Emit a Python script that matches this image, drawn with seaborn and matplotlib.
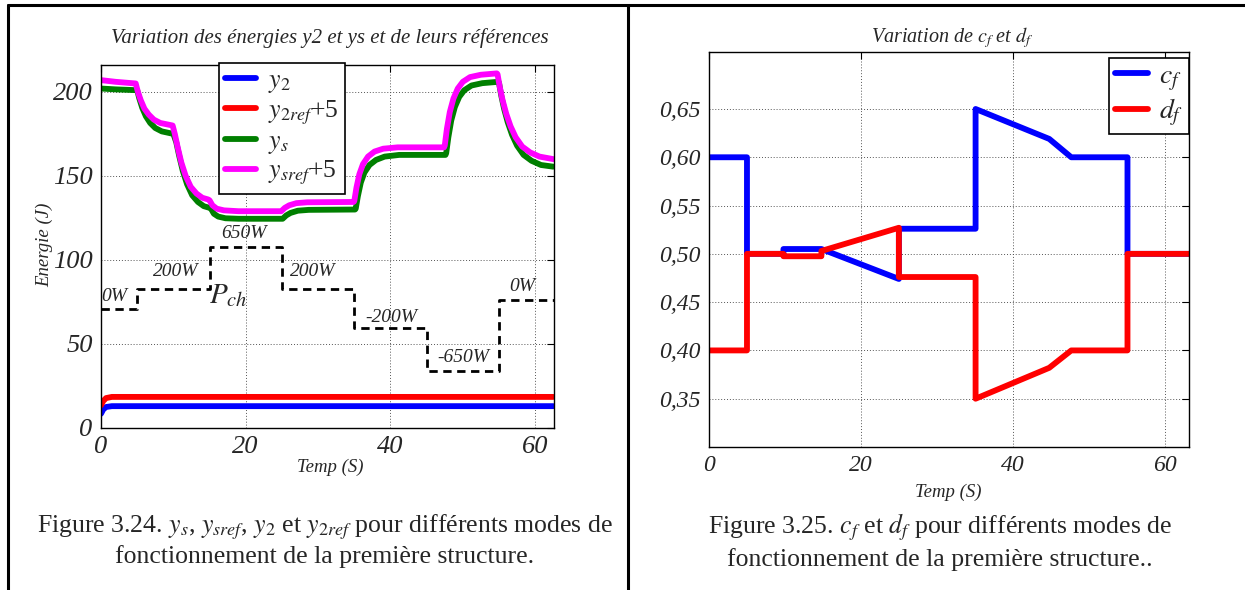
import matplotlib
matplotlib.use("Agg")
import matplotlib.pyplot as plt
from matplotlib.lines import Line2D
import seaborn as sns

# ---------------- data ----------------
# Left chart: energies, ysref + 5 (magenta)
t_s = [0, 2, 4.8, 5.1, 5.5, 6.0, 6.6, 7.3, 8.2, 9.9, 10.2, 10.6, 11.1, 11.7, 12.4, 13.2,
       14.0, 14.8, 15.0, 15.4, 16.0, 17.0, 19.0, 24.9, 25.4, 26.0, 27.0, 28.5, 34.9, 35.0,
       35.3, 35.7, 36.2, 36.9, 37.8, 39.0, 41.0, 47.4, 47.5, 47.8, 48.2, 48.7, 49.3, 50.0,
       51.0, 52.5, 54.7, 54.8, 55.1, 55.5, 56.0, 56.6, 57.3, 58.2, 59.3, 60.6, 62.5]
ysref5 = [207, 206, 205, 200, 195, 190, 186.5, 183.5, 181.5, 180, 175, 167, 158, 150, 143.5,
          139.5, 137, 136, 135.5, 132.5, 130.5, 129.5, 129, 129, 131, 132.5, 133.8, 134.3,
          134.5, 135, 143, 151, 157, 161.5, 164.5, 166.2, 167, 167, 168, 178, 188, 196, 202,
          206, 208.8, 210.2, 211, 210.5, 203, 195, 187, 179.5, 173, 167.5, 164, 161.5, 160]
# ys (green)
t_g = [0, 2, 5.0, 5.3, 5.7, 6.2, 6.8, 7.5, 8.4, 10.0, 10.4, 10.8, 11.3, 11.9, 12.6, 13.4,
       14.2, 15.0, 15.2, 15.6, 16.2, 17.2, 19.0, 25.1, 25.6, 26.2, 27.2, 28.7, 35.1, 35.2,
       35.5, 35.9, 36.4, 37.1, 38.0, 39.2, 41.2, 47.6, 47.7, 48.0, 48.4, 48.9, 49.5, 50.2,
       51.2, 52.7, 54.9, 55.0, 55.3, 55.7, 56.2, 56.8, 57.5, 58.4, 59.5, 60.8, 62.5]
ys = [202, 201.5, 201, 196, 190.5, 185.5, 181.5, 178.5, 176.5, 175, 170, 162, 153, 145,
      138.5, 134.5, 132, 131, 130.5, 127.5, 125.8, 124.8, 124.5, 124.5, 126.5, 128, 129.3,
      129.8, 130, 130.5, 138, 146, 152, 156.5, 159.5, 161.5, 162.5, 162.5, 163.5, 173, 183,
      191, 197, 201, 203.8, 205.2, 206, 205.5, 198, 190, 182, 174.5, 168, 162.5, 159, 156.5,
      155.5]
# y2 and y2ref + 5
t_2 = [0, 0.3, 0.7, 1.5, 62.5]
y2ref5 = [13.5, 16, 17.8, 18.5, 18.5]
y2 = [8.5, 11, 12.5, 13, 13]

# Load profile (schematic)
t_pch = [0, 5, 15, 25, 35, 45, 55, 62.6]
pch_level = [70.8, 83, 108, 83, 59.5, 34, 76, 76]
pch_labels = ["0W", "200W", "650W", "200W", "-200W", "-650W", "0W"]
pch_label_t = [1.9, 10.3, 19.7, 29.3, 40.1, 50.1, 58.2]
pch_label_y = [78, 93, 116, 93, 65.5, 42, 84]

# Right chart: cf and df
t_cf = [0, 5, 5, 9.8, 9.8, 14.8, 25, 25, 35.1, 35.1, 44.8, 47.7, 55.1, 55.1, 63.2]
cf = [0.600, 0.600, 0.500, 0.500, 0.505, 0.505, 0.474, 0.526, 0.526, 0.650, 0.619, 0.600,
      0.600, 0.500, 0.500]
t_df = [0, 5, 5, 9.8, 9.8, 14.8, 14.8, 25, 25, 35.1, 35.1, 44.8, 47.7, 55.1, 55.1, 63.2]
df_ = [0.400, 0.400, 0.500, 0.500, 0.4975, 0.4975, 0.503, 0.527, 0.476, 0.476, 0.350, 0.382,
       0.400, 0.400, 0.500, 0.500]

xticks = [0, 20, 40, 60]
yticks_left = [0, 50, 100, 150, 200]
yticks_right = [0.35, 0.40, 0.45, 0.50, 0.55, 0.60, 0.65]
yticklabels_right = ["0,35", "0,40", "0,45", "0,50", "0,55", "0,60", "0,65"]

# ---------------- style ----------------
sns.set_style("white")
plt.rcParams["font.family"] = ["Liberation Serif", "DejaVu Serif"]
plt.rcParams["mathtext.fontset"] = "stix"
plt.rcParams["xtick.direction"] = "in"
plt.rcParams["ytick.direction"] = "in"

W, H = 1245, 590
fig = plt.figure(figsize=(W / 100, H / 100), dpi=100)


def fx(px):
    return px / W


def fy(py):
    return 1 - py / H


def style_axes(ax, tick_size):
    for s in ax.spines.values():
        s.set_color("black")
        s.set_linewidth(1.0)
    ax.grid(True, color="#555555", linestyle=(0, (1, 2)), linewidth=0.7)
    ax.tick_params(axis="both", which="both", direction="in", top=True, right=True,
                   length=5, width=0.8, color="black", labelsize=tick_size, pad=6)
    for lab in ax.get_xticklabels() + ax.get_yticklabels():
        lab.set_fontstyle("italic")
    ax.set_xlabel("")
    ax.set_ylabel("")


# ---------------- left chart ----------------
axL = fig.add_axes([fx(101), fy(428), fx(554 - 101), (428 - 65) / H])
lw = 4.2
sns.lineplot(x=t_2, y=y2, ax=axL, color="#0000ff", lw=lw, estimator=None, sort=False,
             label="$y_2$", solid_capstyle="round")
sns.lineplot(x=t_2, y=y2ref5, ax=axL, color="#ff0000", lw=lw, estimator=None, sort=False,
             label="$y_{2ref}$+5", solid_capstyle="round")
sns.lineplot(x=t_g, y=ys, ax=axL, color="#007f00", lw=lw, estimator=None, sort=False,
             label="$y_s$", solid_capstyle="round")
sns.lineplot(x=t_s, y=ysref5, ax=axL, color="#ff00ff", lw=lw, estimator=None, sort=False,
             label="$y_{sref}$+5", solid_capstyle="round")
sns.lineplot(x=t_pch, y=pch_level, ax=axL, color="black", lw=2.0, estimator=None,
             sort=False, drawstyle="steps-post", linestyle=(0, (3, 2)), legend=False)
for txt, tx, ty in zip(pch_labels, pch_label_t, pch_label_y):
    axL.text(tx, ty, txt, fontsize=14, style="italic", ha="center", va="center")
axL.text(17.6, 79, "$P_{ch}$", fontsize=21, ha="center", va="center")

axL.set_xlim(0, 62.6)
axL.set_ylim(0, 216)
axL.set_xticks(xticks)
axL.set_yticks(yticks_left)
style_axes(axL, 19)
legL = axL.legend(loc="upper left", bbox_to_anchor=(0.26, 1.006), fontsize=18.5,
                  frameon=True, fancybox=False, edgecolor="black", framealpha=1,
                  borderpad=0.25, labelspacing=0.12, handlelength=1.2, handletextpad=0.45,
                  borderaxespad=0)
legL.get_frame().set_linewidth(1.2)

# ---------------- right chart ----------------
axR = fig.add_axes([fx(709), fy(447), fx(1189 - 709), (447 - 52) / H])
sns.lineplot(x=t_cf, y=cf, ax=axR, color="#0000ff", lw=lw, estimator=None, sort=False,
             label="$c_f$")
sns.lineplot(x=t_df, y=df_, ax=axR, color="#ff0000", lw=lw, estimator=None, sort=False,
             label="$d_f$")
axR.set_xlim(0, 63.2)
axR.set_ylim(0.30, 0.709)
axR.set_xticks(xticks)
axR.set_yticks(yticks_right)
axR.set_yticklabels(yticklabels_right)
style_axes(axR, 17)
legR = axR.legend(loc="upper right", bbox_to_anchor=(1.0, 0.985), fontsize=20,
                  frameon=True, fancybox=False, edgecolor="black", framealpha=1,
                  borderpad=0.2, labelspacing=0.15, handlelength=1.2, handletextpad=0.4,
                  borderaxespad=0)
legR.get_frame().set_linewidth(1.2)

# ---------------- texts ----------------
fig.text(fx(330), fy(38), "Variation des énergies y2 et ys et de leurs références",
         fontsize=15, style="italic", ha="center", va="center")
fig.text(fx(952), fy(38), "Variation de $c_f$ et $d_f$",
         fontsize=14.5, style="italic", ha="center", va="center")
fig.text(fx(330), fy(467), "Temp (S)", fontsize=13.5, style="italic", ha="center", va="center")
fig.text(fx(948), fy(492), "Temp (S)", fontsize=13.5, style="italic", ha="center", va="center")
fig.text(fx(45), fy(245), "Energie (J)", fontsize=13.5, style="italic", ha="center",
         va="center", rotation=90)

cap_size = 18.5
fig.text(fx(325), fy(527), "Figure 3.24. $y_s$, $y_{sref}$, $y_2$ et $y_{2ref}$ pour différents modes de",
         fontsize=cap_size, ha="center", va="center")
fig.text(fx(325), fy(557), "fonctionnement de la première structure.",
         fontsize=cap_size, ha="center", va="center")
fig.text(fx(940), fy(527), "Figure 3.25. $c_f$ et $d_f$ pour différents modes de",
         fontsize=cap_size, ha="center", va="center")
fig.text(fx(940), fy(560), "fonctionnement de la première structure..",
         fontsize=cap_size, ha="center", va="center")

# frame lines
for (x0, y0, x1, y1) in [(8, 5, 1245, 5), (8, 5, 8, 590), (628, 5, 628, 590)]:
    fig.add_artist(Line2D([fx(x0), fx(x1)], [fy(y0), fy(y1)], transform=fig.transFigure,
                          color="black", lw=2.2))

fig.savefig("out.png", dpi=100)
